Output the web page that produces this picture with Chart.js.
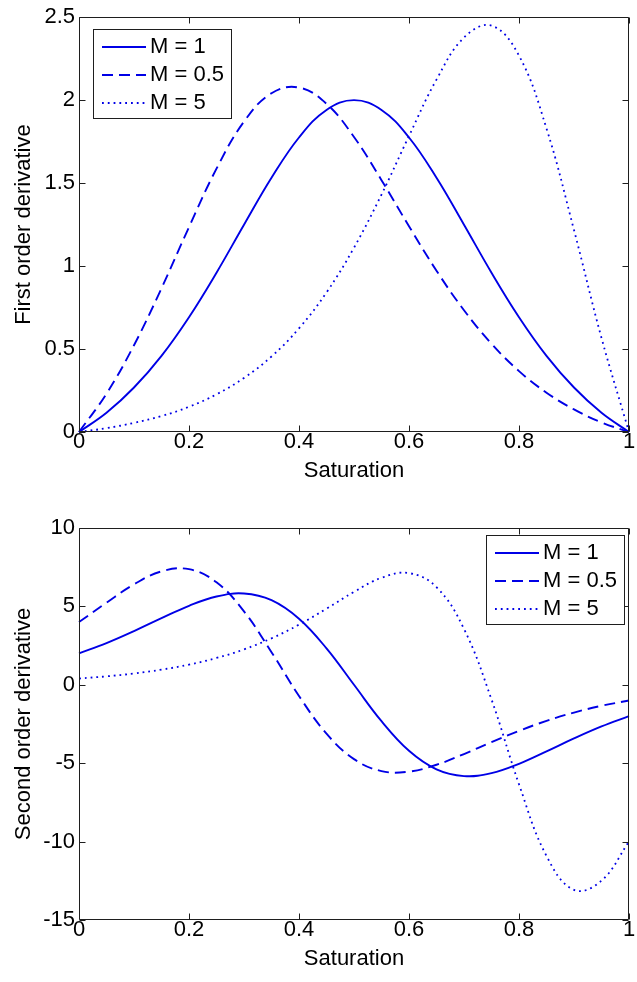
<!DOCTYPE html>
<html>
<head>
<meta charset="utf-8">
<script src="https://cdn.jsdelivr.net/npm/chart.js@4.4.1/dist/chart.umd.min.js"></script>
<style>
  html, body { margin: 0; padding: 0; background: #fff; }
  .panel { position: absolute; left: 0; }
</style>
</head>
<body>
<div class="panel" style="top:0"><canvas id="chartPrimera" width="637" height="495"></canvas></div>
<div class="panel" style="top:495px"><canvas id="chartSegunda" width="637" height="487"></canvas></div>
<script>
const saturacion = [0, 0.05, 0.1, 0.15, 0.2, 0.25, 0.3, 0.35, 0.4, 0.45, 0.5,
  0.55, 0.6, 0.65, 0.7, 0.75, 0.8, 0.85, 0.9, 0.95, 1];

// primera derivada
const primeraM1 = [0, 0.116, 0.268, 0.459, 0.692, 0.960, 1.249, 1.532, 1.775, 1.941, 2.000,
  1.941, 1.775, 1.532, 1.249, 0.960, 0.692, 0.459, 0.268, 0.116, 0];
const primeraM05 = [0, 0.231, 0.523, 0.866, 1.235, 1.587, 1.871, 2.042, 2.076, 1.978, 1.778,
  1.518, 1.240, 0.972, 0.734, 0.532, 0.367, 0.237, 0.136, 0.058, 0];
const primeraM5 = [0, 0.023, 0.055, 0.096, 0.152, 0.227, 0.326, 0.455, 0.625, 0.841, 1.111,
  1.431, 1.784, 2.124, 2.377, 2.449, 2.268, 1.829, 1.217, 0.567, 0];

// segunda derivada
const segundaM1 = [2.000, 2.659, 3.424, 4.249, 5.038, 5.632, 5.822, 5.393, 4.210, 2.322, 0,
  -2.322, -4.210, -5.393, -5.822, -5.632, -5.038, -4.249, -3.424, -2.659, -2.000];
const segundaM05 = [4.000, 5.236, 6.408, 7.235, 7.373, 6.540, 4.681, 2.081, -0.712, -3.115, -4.741,
  -5.502, -5.541, -5.100, -4.415, -3.658, -2.936, -2.301, -1.770, -1.340, -1.000];
const segundaM5 = [0.400, 0.539, 0.722, 0.965, 1.287, 1.710, 2.260, 2.964, 3.836, 4.854, 5.926,
  6.823, 7.124, 6.228, 3.564, -0.933, -6.344, -10.916, -13.081, -12.486, -10.000];

const etiquetas = ['M = 1', 'M = 0.5', 'M = 5'];
const ticksX = [0, 0.2, 0.4, 0.6, 0.8, 1];
const ticksPrimera = [0, 0.5, 1, 1.5, 2, 2.5];
const ticksSegunda = [-15, -10, -5, 0, 5, 10];

const AZUL = 'rgb(0, 0, 230)';
const FUENTE = '"Liberation Sans", Arial, Helvetica, sans-serif';

Chart.defaults.font.family = FUENTE;
Chart.defaults.font.size = 22;
Chart.defaults.color = '#000';

// caja estilo matlab con marcas hacia adentro + leyenda
const marcoMatlab = {
  id: 'marcoMatlab',
  afterDraw(chart, args, opts) {
    const { ctx, chartArea: a, scales } = chart;
    const L = Math.round(a.left) + 0.5, R = Math.round(a.right) - 0.5;
    const T = Math.round(a.top) + 0.5, B = Math.round(a.bottom) - 0.5;
    const largo = 6;
    ctx.save();
    ctx.strokeStyle = '#1e1e1e';
    ctx.lineWidth = 1;
    ctx.setLineDash([]);
    ctx.beginPath();
    ctx.rect(L, T, R - L, B - T);
    scales.x.ticks.forEach(t => {
      const px = Math.round(scales.x.getPixelForValue(t.value)) + 0.5;
      ctx.moveTo(px, B); ctx.lineTo(px, B - largo);
      ctx.moveTo(px, T); ctx.lineTo(px, T + largo);
    });
    scales.y.ticks.forEach(t => {
      const py = Math.round(scales.y.getPixelForValue(t.value)) + 0.5;
      ctx.moveTo(L, py); ctx.lineTo(L + largo, py);
      ctx.moveTo(R, py); ctx.lineTo(R - largo, py);
    });
    ctx.stroke();

    // leyenda
    const w = 138, h = 89;
    const x0 = Math.round(opts.derecha != null ? a.right - opts.derecha - w : a.left + opts.izquierda);
    const y0 = Math.round(a.top + opts.arriba);
    ctx.fillStyle = '#fff';
    ctx.fillRect(x0, y0, w, h);
    ctx.strokeRect(x0 + 0.5, y0 + 0.5, w, h);
    ctx.font = '22px ' + FUENTE;
    ctx.textBaseline = 'middle';
    chart.data.datasets.forEach((ds, i) => {
      const y = y0 + 18 + i * 28;
      ctx.strokeStyle = ds.borderColor;
      ctx.lineWidth = ds.borderWidth;
      ctx.setLineDash(ds.borderDash || []);
      ctx.beginPath();
      ctx.moveTo(x0 + 9, y);
      ctx.lineTo(x0 + 53, y);
      ctx.stroke();
      ctx.setLineDash([]);
      ctx.fillStyle = '#000';
      ctx.fillText(ds.label, x0 + 57, y);
    });
    ctx.restore();
  }
};

function serie(label, valores, dash, ancho) {
  return {
    label,
    data: saturacion.map((s, i) => ({ x: s, y: valores[i] })),
    borderColor: AZUL,
    borderWidth: ancho,
    borderDash: dash,
    pointRadius: 0,
    tension: 0.4,
    fill: false,
    clip: 3
  };
}

function crearGrafico(id, cfg) {
  return new Chart(document.getElementById(id), {
    type: 'line',
    data: {
      datasets: [
        serie(etiquetas[0], cfg.m1, [], 1.9),
        serie(etiquetas[1], cfg.m05, [11, 6], 1.9),
        serie(etiquetas[2], cfg.m5, [1.8, 4], 1.8)
      ]
    },
    options: {
      responsive: false,
      animation: false,
      layout: { padding: { top: cfg.arriba, right: 8, left: 0, bottom: 0 } },
      scales: {
        x: {
          type: 'linear',
          min: 0, max: 1,
          grid: { display: false, drawTicks: false },
          border: { display: false },
          afterBuildTicks: s => { s.ticks = ticksX.map(v => ({ value: v })); },
          afterFit: s => { s.height = cfg.altoX; },
          ticks: {
            autoSkip: false, maxRotation: 0, padding: -1,
            font: { size: 22, lineHeight: 1 },
            callback: v => String(v)
          },
          title: {
            display: true, text: 'Saturation',
            font: { size: 22, lineHeight: 1.2 },
            padding: { top: 0, bottom: cfg.padTitulo }
          }
        },
        y: {
          min: cfg.yMin, max: cfg.yMax,
          grid: { display: false, drawTicks: false },
          border: { display: false },
          afterBuildTicks: s => { s.ticks = cfg.ticksY.map(v => ({ value: v })); },
          afterFit: s => { s.width = 79; },
          ticks: { padding: 4, callback: v => String(v) },
          title: {
            display: true, text: cfg.tituloY,
            font: { size: 22, lineHeight: 1.2 },
            padding: { top: 11, bottom: 0 }
          }
        }
      },
      plugins: {
        legend: { display: false },
        tooltip: { enabled: false },
        marcoMatlab: cfg.leyenda
      }
    },
    plugins: [marcoMatlab]
  });
}

crearGrafico('chartPrimera', {
  m1: primeraM1, m05: primeraM05, m5: primeraM5,
  yMin: 0, yMax: 2.5, ticksY: ticksPrimera,
  tituloY: 'First order derivative',
  arriba: 15, altoX: 63, padTitulo: 11,
  leyenda: { izquierda: 14, arriba: 12 }
});

crearGrafico('chartSegunda', {
  m1: segundaM1, m05: segundaM05, m5: segundaM5,
  yMin: -15, yMax: 10, ticksY: ticksSegunda,
  tituloY: 'Second order derivative',
  arriba: 33, altoX: 62, padTitulo: 10,
  leyenda: { derecha: 5, arriba: 7 }
});
</script>
</body>
</html>
